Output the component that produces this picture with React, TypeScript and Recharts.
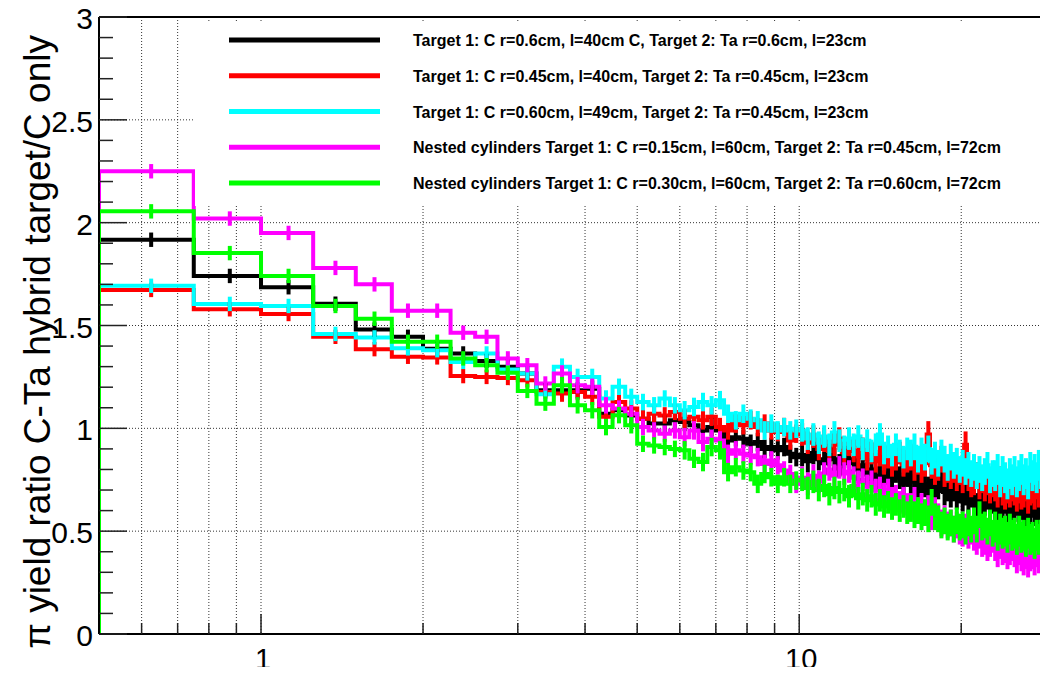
import {
  CartesianGrid,
  ComposedChart,
  ErrorBar,
  Label,
  Legend,
  Line,
  ReferenceLine,
  Scatter,
  XAxis,
  YAxis,
} from "recharts";

const X_MIN = 0.5;
const X_MAX = 30;
const BIN_WIDTH = 0.25;

const seriesNames = [
  "Target 1: C r=0.6cm, l=40cm C, Target 2: Ta r=0.6cm, l=23cm",
  "Target 1: C r=0.45cm, l=40cm, Target 2: Ta r=0.45cm, l=23cm",
  "Target 1: C r=0.60cm, l=49cm, Target 2: Ta r=0.45cm, l=23cm",
  "Nested cylinders Target 1: C r=0.15cm, l=60cm, Target 2: Ta r=0.45cm, l=72cm",
  "Nested cylinders Target 1: C r=0.30cm, l=60cm, Target 2: Ta r=0.60cm, l=72cm",
];

const COLORS = ["#000000", "#ff0000", "#00ffff", "#ff00ff", "#00ff00"];

// one value per 0.25 wide bin, from 0.5 to 30
const blackValues = [
  1.917, 1.741, 1.686, 1.606, 1.48, 1.445, 1.387, 1.364, 1.328, 1.3, 1.267, 1.185,
  1.185, 1.185, 1.193, 1.071, 1.088, 1.063, 1.047, 1.023, 1.023, 1.039,
  1.031, 1.015, 0.99, 1.006, 0.99, 0.941, 0.957, 0.949, 0.925, 0.933,
  0.9, 0.909, 0.893, 0.909, 0.876, 0.86,
  0.87, 0.84, 0.88, 0.85, 0.83, 0.87, 0.85, 0.82, 0.86, 0.83, 0.85, 0.8,
  0.82, 0.78, 0.8, 0.76, 0.77, 0.74, 0.78, 0.75, 0.79, 0.76, 0.73, 0.77,
  0.74, 0.77, 0.72, 0.75, 0.73, 0.7, 0.74, 0.71, 0.72, 0.75, 0.69, 0.71,
  0.68, 0.71, 0.67, 0.7, 0.66, 0.69, 0.64, 0.68, 0.65, 0.62, 0.66, 0.63,
  0.64, 0.67, 0.62, 0.65, 0.63, 0.6, 0.65, 0.62, 0.66, 0.61, 0.64, 0.6,
  0.62, 0.65, 0.59, 0.63, 0.61, 0.58, 0.63, 0.6, 0.64, 0.6, 0.62, 0.59,
  0.63, 0.66, 0.6, 0.62, 0.61, 0.64, 0.59, 0.62,
];

const redValues = [
  1.673, 1.579, 1.556, 1.445, 1.385, 1.348, 1.345, 1.254, 1.25, 1.245, 1.234, 1.177,
  1.169, 1.177, 1.153, 1.056, 1.128, 1.096, 1.047, 1.071, 1.063, 1.08,
  1.047, 1.056, 1.039, 1.056, 1.006, 0.99, 1.023, 1.015, 1.039, 1.006,
  1.023, 0.99, 0.982, 1.006, 0.941, 0.974,
  0.97, 0.93, 0.96, 0.9, 0.94, 0.89, 0.92, 0.95, 0.88, 0.92, 0.89, 0.86,
  0.9, 0.85, 0.88, 0.84, 0.87, 0.83, 0.86, 0.82, 0.85, 0.88, 0.82, 0.84,
  0.86, 0.81, 0.84, 0.8, 0.83, 0.97, 0.82, 0.79, 0.81, 0.85, 0.78, 0.8,
  0.77, 0.8, 0.76, 0.79, 0.75, 0.92, 0.76, 0.73, 0.74, 0.77, 0.72, 0.75,
  0.71, 0.74, 0.7, 0.73, 0.72, 0.69, 0.74, 0.7, 0.68, 0.71, 0.69, 0.72,
  0.7, 0.67, 0.71, 0.68, 0.69, 0.72, 0.66, 0.7, 0.71, 0.68, 0.73, 0.69,
  0.72, 0.7, 0.88, 0.74, 0.71, 0.9, 0.73, 0.7,
];

const cyanValues = [
  1.693, 1.605, 1.595, 1.459, 1.442, 1.389, 1.38, 1.323, 1.364, 1.286, 1.267, 1.166,
  1.3, 1.25, 1.25, 1.145, 1.202, 1.153, 1.128, 1.112, 1.145, 1.112,
  1.088, 1.104, 1.128, 1.112, 1.137, 1.071, 1.039, 1.071, 1.047, 1.039,
  0.99, 1.023, 0.99, 1.006, 0.99, 0.998,
  0.99, 0.95, 0.97, 0.93, 0.96, 0.92, 0.98, 0.94, 0.91, 0.95, 0.92, 0.96,
  0.9, 0.94, 0.89, 0.92, 0.97, 0.88, 0.91, 0.87, 0.92, 0.89, 0.86, 0.9,
  0.88, 0.91, 0.85, 0.89, 0.86, 0.9, 0.84, 0.87, 0.83, 0.88, 0.85, 0.81,
  0.86, 0.82, 0.84, 0.8, 0.83, 0.79, 0.82, 0.78, 0.81, 0.77, 0.8, 0.76,
  0.79, 0.82, 0.75, 0.78, 0.77, 0.8, 0.74, 0.79, 0.76, 0.73, 0.78, 0.75,
  0.79, 0.74, 0.77, 0.8, 0.75, 0.78, 0.73, 0.81, 0.77, 0.8, 0.76, 0.82,
  0.78, 0.84, 0.77, 0.81, 0.8, 0.76, 0.79, 0.82,
];

const magentaValues = [
  2.25, 2.02, 1.95, 1.78, 1.7, 1.572, 1.572, 1.465, 1.445, 1.34, 1.307, 1.218,
  1.267, 1.21, 1.202, 1.112, 1.096, 1.071, 1.006, 0.99, 0.974, 0.99,
  0.957, 0.99, 0.933, 0.949, 0.941, 0.876, 0.893, 0.876, 0.868, 0.86,
  0.827, 0.844, 0.82, 0.795, 0.778, 0.73,
  0.76, 0.73, 0.77, 0.74, 0.78, 0.8, 0.77, 0.81, 0.78, 0.79, 0.76, 0.74,
  0.75, 0.72, 0.74, 0.7, 0.71, 0.68, 0.7, 0.66, 0.67, 0.64, 0.66, 0.63,
  0.62, 0.65, 0.6, 0.62, 0.59, 0.61, 0.57, 0.6, 0.57, 0.54, 0.56, 0.53,
  0.54, 0.51, 0.53, 0.5, 0.49, 0.52, 0.48, 0.5, 0.47, 0.45, 0.48, 0.44,
  0.45, 0.42, 0.44, 0.46, 0.43, 0.4, 0.44, 0.41, 0.42, 0.39, 0.41, 0.43,
  0.4, 0.37, 0.41, 0.38, 0.36, 0.39, 0.35, 0.38, 0.39, 0.36, 0.4, 0.37,
  0.38, 0.35, 0.39, 0.36, 0.37, 0.4, 0.36, 0.38,
];

const greenValues = [
  2.055, 1.852, 1.741, 1.595, 1.533, 1.421, 1.421, 1.34, 1.307, 1.27, 1.182, 1.12,
  1.21, 1.112, 1.088, 1.006, 1.064, 1.015, 0.925, 0.917, 0.909, 0.9,
  0.893, 0.852, 0.836, 0.909, 0.893, 0.787, 0.811, 0.795, 0.787, 0.73,
  0.778, 0.762, 0.73, 0.762, 0.73, 0.746,
  0.75, 0.71, 0.74, 0.7, 0.72, 0.68, 0.71, 0.69, 0.7, 0.67, 0.72, 0.66,
  0.68, 0.65, 0.67, 0.63, 0.65, 0.62, 0.64, 0.61, 0.63, 0.6, 0.62, 0.59,
  0.61, 0.58, 0.6, 0.57, 0.59, 0.56, 0.64, 0.57, 0.56, 0.53, 0.55, 0.52,
  0.54, 0.51, 0.55, 0.52, 0.53, 0.5, 0.54, 0.51, 0.55, 0.51, 0.58, 0.52,
  0.53, 0.5, 0.54, 0.49, 0.52, 0.48, 0.51, 0.49, 0.5, 0.47, 0.51, 0.48,
  0.49, 0.46, 0.5, 0.47, 0.48, 0.45, 0.49, 0.46, 0.47, 0.44, 0.48, 0.46,
  0.48, 0.45, 0.47, 0.44, 0.46, 0.43, 0.47, 0.45,
];

// half length of the error bar in each bin
const binErrors = [
  0.035, 0.035, 0.035, 0.035, 0.035, 0.035, 0.035, 0.035, 0.035, 0.035, 0.035, 0.035,
  0.04, 0.04, 0.04, 0.04, 0.04, 0.04, 0.04, 0.04, 0.04, 0.04,
  0.045, 0.045, 0.045, 0.045, 0.045, 0.045, 0.045, 0.045, 0.045, 0.045,
  0.045, 0.045, 0.045, 0.045, 0.045, 0.045,
  0.055, 0.055, 0.055, 0.055, 0.055, 0.055, 0.055, 0.055, 0.055, 0.055, 0.055, 0.055,
  0.055, 0.055, 0.055, 0.055, 0.055, 0.055, 0.055, 0.055, 0.055, 0.055, 0.055, 0.055,
  0.065, 0.065, 0.065, 0.065, 0.065, 0.065, 0.065, 0.065, 0.065, 0.065, 0.065, 0.065,
  0.065, 0.065, 0.065, 0.065, 0.065, 0.065, 0.065, 0.065, 0.065, 0.065, 0.065, 0.065,
  0.065, 0.065, 0.065, 0.065, 0.075, 0.075, 0.075, 0.075, 0.075, 0.075, 0.075, 0.075,
  0.075, 0.075, 0.075, 0.075, 0.075, 0.075, 0.075, 0.075, 0.075, 0.075, 0.075, 0.075,
  0.075, 0.075, 0.075, 0.075, 0.075, 0.075, 0.075, 0.075,
];

const seriesValues = [blackValues, redValues, cyanValues, magentaValues, greenValues];

const xTicks = [0.6, 0.7, 0.8, 0.9, 1, 2, 3, 4, 5, 6, 7, 8, 9, 10, 20];
const xLabeled = [1, 10];
const yTicks = Array.from({ length: 31 }, (_, i) => i / 10);
const yGridValues = [0.5, 1, 1.5, 2, 2.5];

const Y_TITLE = "\u03c0 yield ratio C-Ta hybrid target/C only";
const FONT = "'Liberation Sans', Arial, Helvetica, sans-serif";

// histogram outline: starts and ends on zero like ROOT does
function stepPoints(values: number[]) {
  const end = X_MIN + values.length * BIN_WIDTH;
  const pts = [{ x: X_MIN, y: 0 }];
  values.forEach((v, i) => pts.push({ x: X_MIN + i * BIN_WIDTH, y: v }));
  pts.push({ x: end, y: values[values.length - 1] });
  pts.push({ x: end, y: 0 });
  return pts;
}

function centerPoints(values: number[]) {
  return values.map((v, i) => ({
    x: X_MIN + (i + 0.5) * BIN_WIDTH,
    y: v,
    e: binErrors[i],
  }));
}

function XTick(props: any) {
  const { x, y, payload } = props;
  const v = payload.value;
  const major = xLabeled.includes(v);
  return (
    <g>
      <line x1={x} x2={x} y1={y} y2={y - (major ? 20 : 11)} stroke="#222" strokeWidth={1.5} />
      {major && (
        <text x={x + 2} y={y + 35} textAnchor="middle" fontSize={29} fontFamily={FONT} fill="#000">
          {String(v)}
        </text>
      )}
    </g>
  );
}

function YTick(props: any) {
  const { x, y, payload } = props;
  const v = payload.value;
  const major = Math.abs(v * 2 - Math.round(v * 2)) < 1e-6;
  return (
    <g>
      <line x1={x} x2={x + (major ? 28 : 14)} y1={y} y2={y} stroke="#222" strokeWidth={1.5} />
      {major && (
        <text x={x - 6} y={y + 12} textAnchor="end" fontSize={30} fontFamily={FONT} fill="#000">
          {String(Math.round(v * 10) / 10)}
        </text>
      )}
    </g>
  );
}

function YTitle(props: any) {
  const { viewBox } = props;
  const bx = (viewBox?.x ?? 0) + 50;
  const by = 35;
  return (
    <text
      x={bx}
      y={by}
      transform={`rotate(-90 ${bx} ${by})`}
      textAnchor="end"
      fontSize={37}
      fontFamily={FONT}
      fill="#000"
    >
      {Y_TITLE}
    </text>
  );
}

function LegendBox() {
  return (
    <svg width={860} height={184} style={{ display: "block", background: "#fff" }}>
      {seriesNames.map((name, i) => {
        const ry = 18 + i * 35.75;
        return (
          <g key={name}>
            <line x1={34} x2={185} y1={ry} y2={ry} stroke={COLORS[i]} strokeWidth={5} />
            <text x={218} y={ry + 6} fontSize={16} fontWeight="bold" fontFamily={FONT} fill="#000">
              {name}
            </text>
          </g>
        );
      })}
    </svg>
  );
}

export default function App() {
  return (
    <div
      style={{
        margin: -8,
        width: 1048,
        height: 675,
        overflow: "hidden",
        position: "relative",
        background: "#fff",
      }}
    >
      <ComposedChart width={1060} height={675} margin={{ top: 17, right: 4, bottom: 0, left: 0 }}>
        <CartesianGrid
          stroke="#333"
          strokeDasharray="1 2"
          horizontalValues={yGridValues}
          verticalValues={xTicks}
        />
        <XAxis
          type="number"
          dataKey="x"
          scale="log"
          domain={[X_MIN, X_MAX]}
          allowDataOverflow
          ticks={xTicks}
          interval={0}
          height={41}
          tickSize={0}
          tickMargin={0}
          tickLine={false}
          tick={<XTick />}
          axisLine={{ stroke: "#000", strokeWidth: 2 }}
        />
        <YAxis
          type="number"
          dataKey="y"
          domain={[0, 3]}
          allowDataOverflow
          ticks={yTicks}
          interval={0}
          width={99}
          tickSize={0}
          tickMargin={0}
          tickLine={false}
          tick={<YTick />}
          axisLine={{ stroke: "#000", strokeWidth: 2 }}
        >
          <Label content={<YTitle />} />
        </YAxis>
        <ReferenceLine y={3} stroke="#000" strokeWidth={2} />
        {seriesValues.map((values, i) => (
          <Line
            key={`line-${i}`}
            data={stepPoints(values)}
            dataKey="y"
            type="stepAfter"
            stroke={COLORS[i]}
            strokeWidth={4}
            strokeLinejoin="miter"
            dot={false}
            activeDot={false}
            isAnimationActive={false}
          />
        ))}
        {seriesValues.map((values, i) => (
          <Scatter
            key={`err-${i}`}
            data={centerPoints(values)}
            dataKey="y"
            fill={COLORS[i]}
            shape={() => <g />}
            isAnimationActive={false}
          >
            <ErrorBar
              dataKey="e"
              direction="y"
              width={0}
              stroke={COLORS[i]}
              strokeWidth={4}
              isAnimationActive={false}
            />
          </Scatter>
        ))}
        <Legend
          layout="horizontal"
          verticalAlign="middle"
          content={() => <LegendBox />}
          wrapperStyle={{ left: 195, top: 22, width: 860, height: 184 }}
        />
      </ComposedChart>
    </div>
  );
}
